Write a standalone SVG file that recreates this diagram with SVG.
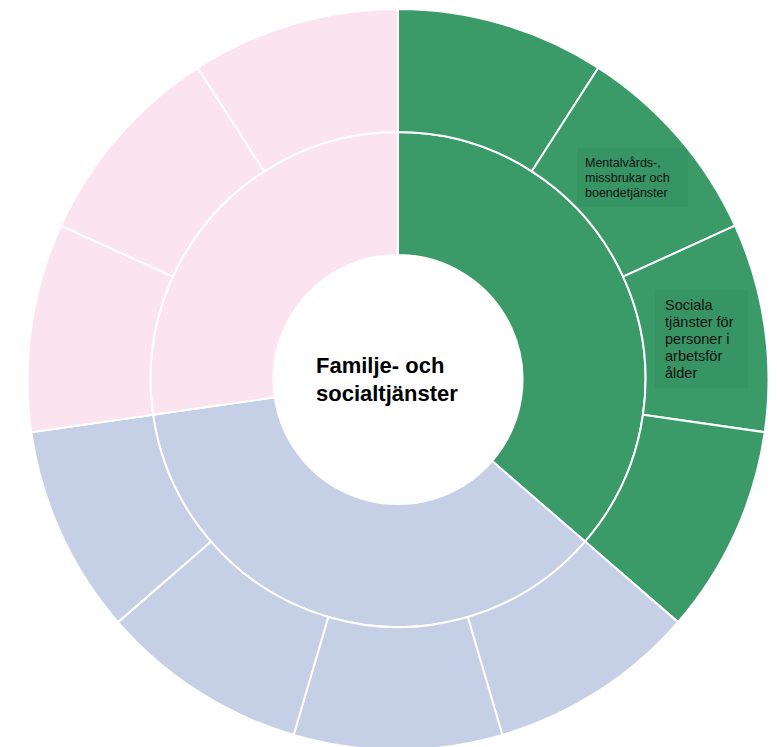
<svg xmlns="http://www.w3.org/2000/svg" width="777" height="747" viewBox="0 0 777 747">
<style>
.seg{stroke:#ffffff;stroke-width:2;stroke-linejoin:round}
.g{fill:#3a9a68}
.b{fill:#c5cfe5}
.p{fill:#fbe4f0}
.box{fill:#000000;fill-opacity:0.035}
.lbl{font-family:"Liberation Sans",Arial,sans-serif;fill:#111111}
.ctr{font-family:"Liberation Sans",Arial,sans-serif;font-weight:bold;font-size:22px;fill:#000000}
</style>
<rect width="777" height="747" fill="#ffffff"/>
<g id="inner-ring">
  <g id="node-green-inner"><path class="seg g" d="M398 132 A247.5 247.5 0 0 1 585.05 541.58 L492.09 461.03 A124.5 124.5 0 0 0 398 255 Z"/></g>
  <g id="node-blue-inner"><path class="seg b" d="M585.05 541.58 A247.5 247.5 0 0 1 153.02 414.72 L274.77 397.22 A124.5 124.5 0 0 0 492.09 461.03 Z"/></g>
  <g id="node-pink-inner"><path class="seg p" d="M153.02 414.72 A247.5 247.5 0 0 1 398 132 L398 255 A124.5 124.5 0 0 0 274.77 397.22 Z"/></g>
</g>
<g id="outer-ring">
  <g id="node-g1"><path class="seg g" d="M398 9 A370.5 370.5 0 0 1 598.31 67.82 L531.81 171.29 A247.5 247.5 0 0 0 398 132 Z"/></g>
  <g id="node-g2"><path class="seg g" d="M598.31 67.82 A370.5 370.5 0 0 1 735.02 225.59 L623.13 276.68 A247.5 247.5 0 0 0 531.81 171.29 Z"/></g>
  <g id="node-g3"><path class="seg g" d="M735.02 225.59 A370.5 370.5 0 0 1 764.73 432.23 L642.98 414.72 A247.5 247.5 0 0 0 623.13 276.68 Z"/></g>
  <g id="node-g4"><path class="seg g" d="M764.73 432.23 A370.5 370.5 0 0 1 678.01 622.13 L585.05 541.58 A247.5 247.5 0 0 0 642.98 414.72 Z"/></g>
  <g id="node-b1"><path class="seg b" d="M678.01 622.13 A370.5 370.5 0 0 1 502.38 734.99 L467.73 616.97 A247.5 247.5 0 0 0 585.05 541.58 Z"/></g>
  <g id="node-b2"><path class="seg b" d="M502.38 734.99 A370.5 370.5 0 0 1 293.62 734.99 L328.27 616.97 A247.5 247.5 0 0 0 467.73 616.97 Z"/></g>
  <g id="node-b3"><path class="seg b" d="M293.62 734.99 A370.5 370.5 0 0 1 117.99 622.13 L210.95 541.58 A247.5 247.5 0 0 0 328.27 616.97 Z"/></g>
  <g id="node-b4"><path class="seg b" d="M117.99 622.13 A370.5 370.5 0 0 1 31.27 432.23 L153.02 414.72 A247.5 247.5 0 0 0 210.95 541.58 Z"/></g>
  <g id="node-p1"><path class="seg p" d="M31.27 432.23 A370.5 370.5 0 0 1 60.98 225.59 L172.87 276.68 A247.5 247.5 0 0 0 153.02 414.72 Z"/></g>
  <g id="node-p2"><path class="seg p" d="M60.98 225.59 A370.5 370.5 0 0 1 197.69 67.82 L264.19 171.29 A247.5 247.5 0 0 0 172.87 276.68 Z"/></g>
  <g id="node-p3"><path class="seg p" d="M197.69 67.82 A370.5 370.5 0 0 1 398 9 L398 132 A247.5 247.5 0 0 0 264.19 171.29 Z"/></g>
</g>
<g id="label-mental">
  <rect class="box" x="577" y="148" width="111" height="59"/>
  <text class="lbl" font-size="12.5"><tspan x="585" y="166.5">Mentalvårds-,</tspan><tspan x="585" y="181.5">missbrukar och</tspan><tspan x="585" y="196.5">boendetjänster</tspan></text>
</g>
<g id="label-sociala">
  <rect class="box" x="655" y="290" width="93" height="98"/>
  <text class="lbl" font-size="14.5"><tspan x="665" y="310">Sociala</tspan><tspan x="665" y="327">tjänster för</tspan><tspan x="665" y="344">personer i</tspan><tspan x="665" y="361">arbetsför</tspan><tspan x="665" y="378">ålder</tspan></text>
</g>
<g id="center-label">
  <text class="ctr"><tspan x="316" y="373">Familje- och</tspan><tspan x="316" y="401">socialtjänster</tspan></text>
</g>
</svg>
